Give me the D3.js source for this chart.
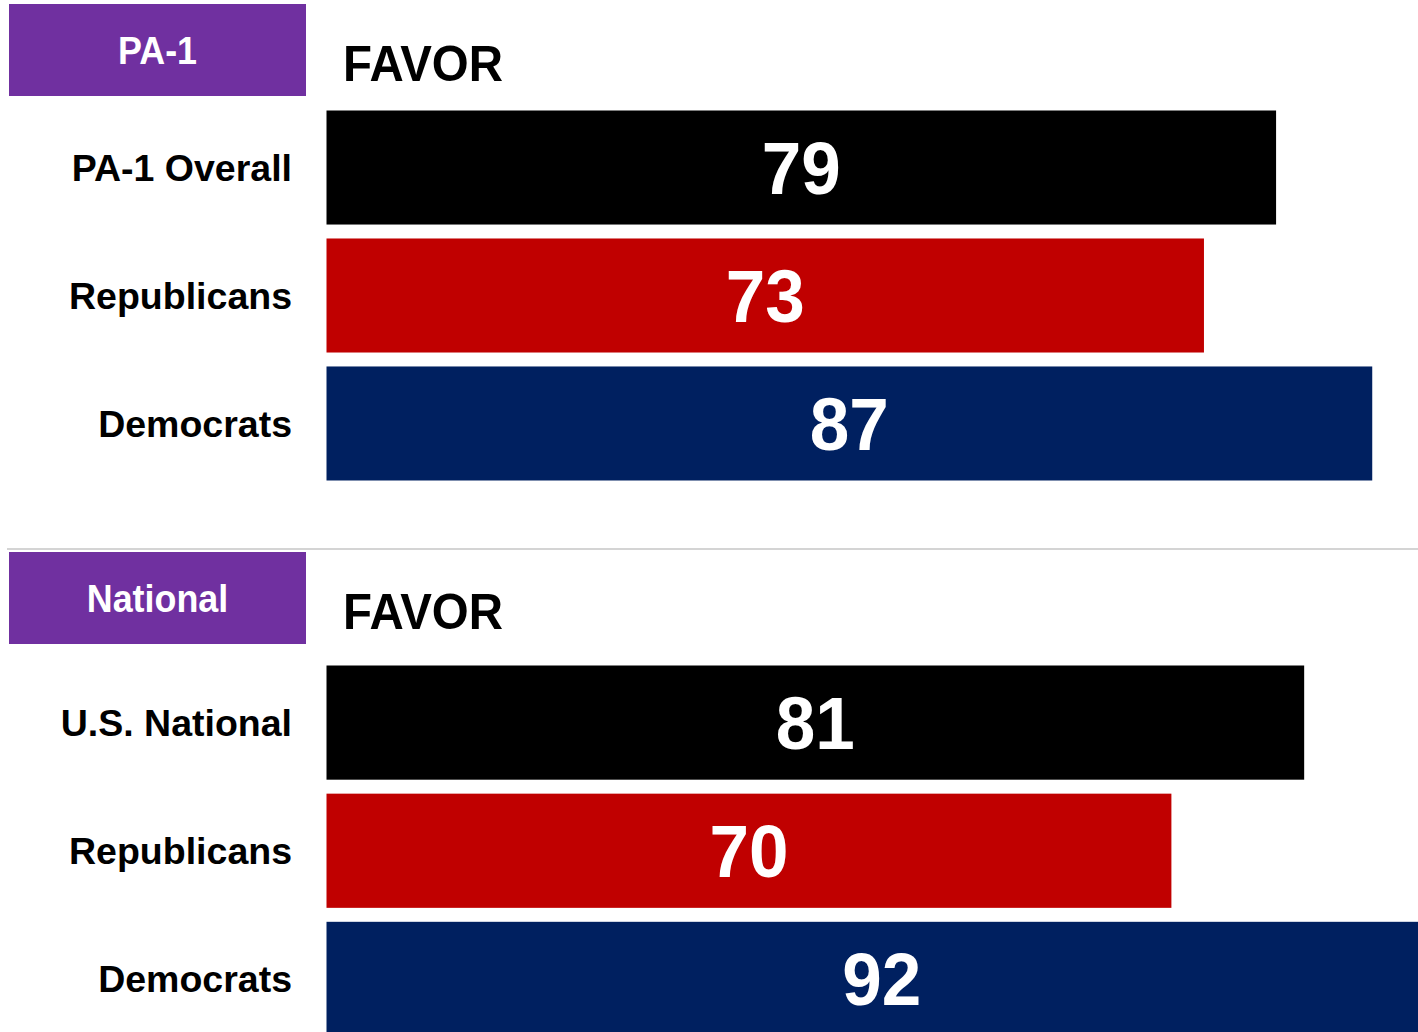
<!DOCTYPE html>
<html>
<head>
<meta charset="utf-8">
<script src="https://cdn.jsdelivr.net/npm/d3@7"></script>
<style>
  html, body { margin: 0; padding: 0; background: #fff; }
  svg { display: block; font-family: "Liberation Sans", Arial, sans-serif; font-weight: bold; }
</style>
</head>
<body>
<div id="chart"></div>
<script>
// --- Data ---
const columnTitle = "FAVOR";
const pa1Title = "PA-1";
const pa1Categories = ["PA-1 Overall", "Republicans", "Democrats"];
const pa1Values = [79, 73, 87];
const natTitle = "National";
const natCategories = ["U.S. National", "Republicans", "Democrats"];
const natValues = [81, 70, 92];
const barColors = ["#000000", "#C00000", "#002060"];

const width = 1418, height = 1032;

const svg = d3.select("#chart").append("svg")
  .attr("width", width)
  .attr("height", height);

// text with horizontal squeeze, anchored at (x, y)
function squeezed(g, txt, x, y, size, sx, anchor, fill) {
  g.append("text")
    .attr("transform", `translate(${x},${y}) scale(${sx},1)`)
    .attr("text-anchor", anchor)
    .attr("font-size", size)
    .attr("fill", fill)
    .text(txt);
}

function drawPanel(opts) {
  const g = svg.append("g");

  // header box
  g.append("rect")
    .attr("x", 9).attr("y", opts.boxTop)
    .attr("width", 297).attr("height", 92)
    .attr("fill", "#7030A0");
  squeezed(g, opts.title, 157.5, opts.boxTop + 46 + 14, 39, 0.92, "middle", "#fff");

  // column title
  squeezed(g, columnTitle, 343, opts.boxTop + 77, 50, 0.95, "start", "#000");

  const x = d3.scaleLinear().domain([0, 100]).range([326.5, 326.5 + opts.unit * 100]);
  const y = d3.scaleBand()
    .domain(opts.categories)
    .range(opts.yRange)
    .paddingInner(0.109)
    .paddingOuter(0);

  const rows = opts.categories.map((c, i) => ({ cat: c, value: opts.values[i], color: barColors[i] }));

  g.selectAll(".bar")
    .data(rows)
    .enter().append("rect")
    .attr("class", "bar")
    .attr("x", x(0))
    .attr("y", d => y(d.cat))
    .attr("width", d => x(d.value) - x(0))
    .attr("height", y.bandwidth())
    .attr("fill", d => d.color);

  // value labels centred in bars
  rows.forEach(d => {
    const cx = (x(0) + x(d.value)) / 2;
    const cy = y(d.cat) + y.bandwidth() / 2;
    squeezed(g, d.value, cx, cy + 0.358 * 74, 74, 0.96, "middle", "#fff");
  });

  // category labels
  g.selectAll(".cat")
    .data(rows)
    .enter().append("text")
    .attr("class", "cat")
    .attr("x", 292)
    .attr("y", d => y(d.cat) + y.bandwidth() / 2 + 0.358 * 37.5)
    .attr("text-anchor", "end")
    .attr("font-size", 37.5)
    .attr("fill", "#000")
    .text(d => d.cat);
}

drawPanel({ title: pa1Title, categories: pa1Categories, values: pa1Values,
  boxTop: 4, yRange: [110.5, 480.5], unit: 12.02 });

// separator
svg.append("line")
  .attr("x1", 7).attr("x2", width)
  .attr("y1", 549).attr("y2", 549)
  .attr("stroke", "#d4d4d4")
  .attr("stroke-width", 2);

drawPanel({ title: natTitle, categories: natCategories, values: natValues,
  boxTop: 552, yRange: [665.5, 1036], unit: 12.07 });
</script>
</body>
</html>
